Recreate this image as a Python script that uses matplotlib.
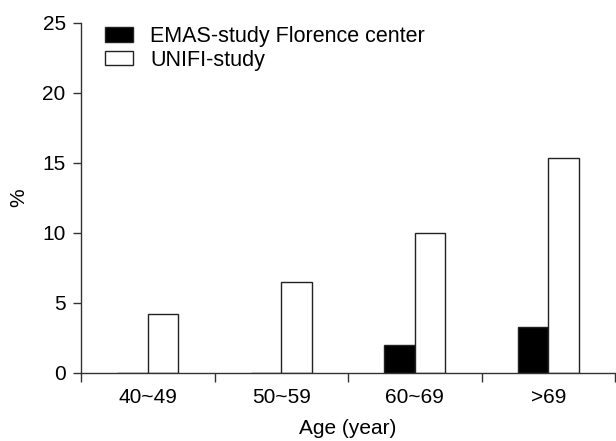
import matplotlib
matplotlib.use("Agg")
import matplotlib.pyplot as plt
import numpy as np

plt.rcParams['font.family'] = ['Liberation Sans', 'DejaVu Sans']

ages = ["40~49", "50~59", "60~69", ">69"]
emas = [0.0, 0.0, 2.0, 3.3]
unifi = [4.2, 6.5, 10.0, 15.3]
series_names = ["EMAS-study Florence center", "UNIFI-study"]
yticks = [0, 5, 10, 15, 20, 25]

fig = plt.figure(figsize=(6.16, 4.41), dpi=100)
ax = fig.add_axes([81 / 616, 1 - 372.7 / 441, 534 / 616, 350 / 441])

x = np.arange(len(ages))
w = 0.23
ax.bar(x - w / 2, emas, w, color="black", edgecolor="#222222", linewidth=1,
       label=series_names[0])
ax.bar(x + w / 2, unifi, w, color="white", edgecolor="#222222", linewidth=1,
       label=series_names[1])

ax.set_xlim(-0.5, len(ages) - 0.5)
ax.set_ylim(0, 25)
ax.set_yticks(yticks)
ax.set_xticks(np.arange(len(ages) + 1) - 0.5)
ax.set_xticklabels([])
ax.set_xticks(x, minor=True)
ax.set_xticklabels(ages, minor=True)
ax.tick_params(axis="x", which="minor", length=0, pad=11, labelsize=15)
ax.tick_params(axis="x", which="major", length=6.5, width=1, color="#333333")
ax.tick_params(axis="y", length=6, width=1, labelsize=15, color="#333333", pad=5)

for s in ["top", "right"]:
    ax.spines[s].set_visible(False)
for s in ["left", "bottom"]:
    ax.spines[s].set_linewidth(1)
    ax.spines[s].set_color("#333333")

ax.set_xlabel("Age (year)", fontsize=15, labelpad=9)
ax.set_ylabel("%", fontsize=15, labelpad=10)

ax.legend(loc="upper left", bbox_to_anchor=(0.045, 0.99), frameon=False,
          fontsize=15.5, handlelength=1.3, handleheight=0.65, handletextpad=0.8,
          labelspacing=0.12, borderpad=0, borderaxespad=0)

fig.savefig("out.png", dpi=100)
